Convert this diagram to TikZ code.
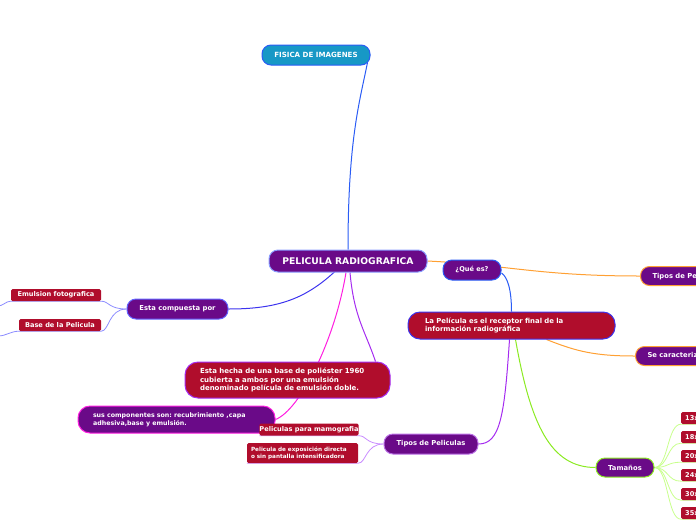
\documentclass[tikz,border=0pt]{standalone}
\usepackage{fontspec}
\setmainfont{DejaVu Sans}
\usepackage{xcolor}
\definecolor{mmpurple}{HTML}{6A0A88}
\definecolor{mmred}{HTML}{B00D2C}
\definecolor{mmteal}{HTML}{1798C6}
\definecolor{lnblue}{HTML}{2A5CF5}
\definecolor{lnindigo}{HTML}{3C33EE}
\definecolor{lnmagenta}{HTML}{FF1EE0}
\definecolor{lnviolet}{HTML}{A52BF0}
\definecolor{lnorange}{HTML}{FFA033}
\definecolor{lngreen}{HTML}{8BEA22}
\definecolor{twgblue}{HTML}{8C8CFF}
\definecolor{twgviolet}{HTML}{C98CFF}
\definecolor{twggreen}{HTML}{C8FF8C}
\definecolor{bdlight}{HTML}{8A9CFF}
\usetikzlibrary{backgrounds}
\frenchspacing

\begin{document}
\begin{tikzpicture}[x=1pt,y=-1pt,
        topic/.style={rounded corners=9pt,fill=mmpurple,text=white,line width=1pt,inner sep=0pt,
          minimum height=20pt,align=center,font=\bfseries\fontsize{6.8}{8.5}\selectfont},
        leaf/.style={rounded corners=1.5pt,fill=mmred,text=white,inner sep=0pt,minimum height=12pt,
          font=\bfseries\fontsize{6.6}{8}\selectfont},
        link/.style={line width=1pt},
        twig/.style={line width=0.8pt}]
        \useasboundingbox (0,0) rectangle (696,520);
        \clip (0,0) rectangle (696,520);

        \node[topic,fill=mmteal,draw=lnblue,minimum width=108pt,font=\bfseries\fontsize{7.1}{8}\selectfont] (fis) at (316,55) {FISICA DE IMAGENES};
        \node[topic,draw=bdlight,minimum width=158pt,minimum height=22pt,font=\bfseries\fontsize{9.2}{10}\selectfont] (pel) at (348,261) {PELICULA RADIOGRAFICA};
        \node[topic,draw=twgblue!70!blue,minimum width=101pt] (comp) at (177.5,309) {Esta compuesta por};
        \node[leaf,minimum width=90pt] (emul) at (56,295) {Emulsion fotografica};
        \node[leaf,minimum width=82pt] (base) at (60,325) {Base de la Pelicula};
        \node[topic,fill=mmred,draw=lnviolet,text width=175pt,inner xsep=15pt,minimum height=36pt,align=left,rounded corners=13pt,
          font=\bfseries\fontsize{7}{8.6}\selectfont] (hecha) at (287.5,380)
          {Esta hecha de una base de poliéster 1960\\cubierta a ambos por una emulsión\\denominado película de emulsión doble.};
        \node[topic,draw=lnmagenta,text width=167pt,inner xsep=15pt,minimum height=27pt,align=left,rounded corners=12pt,
          font=\bfseries\fontsize{6.3}{8.4}\selectfont] (sus) at (176.5,419.5)
          {sus componentes son: recubrimiento ,capa\\adhesiva,base y emulsión.};
        \node[leaf,minimum width=98pt] (mamo) at (309,429.5) {Peliculas para mamografia};
        \node[leaf,minimum height=20pt,text width=103pt,inner xsep=4pt,align=left,font=\bfseries\fontsize{5.7}{7}\selectfont] (expo) at (302.5,453)
          {Pelicula de exposición directa\\o sin pantalla intensificadora};
        \node[topic,draw=twgviolet!80!violet,minimum width=94pt] (tipos) at (431,444) {Tipos de Peliculas};
        \node[topic,draw=lnblue,minimum width=58pt,font=\bfseries\fontsize{6.6}{8}\selectfont] (que) at (472,270) {¿Qué es?};
        \node[topic,fill=mmred,draw=lnindigo,text width=173pt,inner xsep=17pt,minimum height=27pt,align=left,rounded corners=12pt,
          font=\bfseries\fontsize{6.9}{8.6}\selectfont] (lapel) at (511.5,325.5)
          {La Película es el receptor final de la\\información radiográfica};
        \node[topic,draw=lnorange,anchor=west,inner xsep=12pt,minimum height=19pt] (tpe) at (640,276) {Tipos de Películas};
        \node[topic,draw=lnorange,anchor=west,inner xsep=12pt,minimum height=19pt] (secar) at (635,356) {Se caracteriza por};
        \node[topic,draw=lngreen,minimum width=58pt,minimum height=19pt] (tam) at (625,467.5) {Tamaños};
        \foreach \s/\y [count=\i] in {13x18/418,18x24/437,20x40/456,24x30/475,30x40/494,35x43/513}
          \node[leaf,anchor=west,inner xsep=4pt] (size\i) at (681,\y) {\s\ cm};

        \coordinate (offA) at (-2,306);
        \coordinate (offB) at (-2,336);

        \begin{pgfonlayer}{background}
          \draw[link,lnblue] ([xshift=-3pt,yshift=3pt]fis.south east) .. controls +(-8,40) and +(0,-110) .. (pel.north);
          \draw[link,lnindigo] ([xshift=-12pt,yshift=2pt]pel.south) .. controls +(-30,28) and +(50,0) .. (comp.east);
          \draw[link,lnmagenta] ([xshift=-2pt]pel.south) .. controls (335,340) and (300,410) .. (sus.east);
          \draw[link,lnviolet] ([xshift=2pt]pel.south) .. controls +(4,45) and +(-10,-30) .. ([xshift=-15pt]hecha.north east);
          \draw[link,lnorange] (pel.east) .. controls +(80,4) and +(-100,0) .. (tpe.west);
          \draw[link,lnblue] ([yshift=-3pt]que.east) .. controls +(6,4) and +(0,-22) .. (lapel.north);
          \draw[link,lnorange] ([xshift=35pt]lapel.south) .. controls +(30,12) and +(-40,0) .. (secar.west);
          \draw[link,lnviolet] ([xshift=-2pt]lapel.south) .. controls +(-5,75) and +(22,0) .. (tipos.east);
          \draw[link,lngreen] ([xshift=4pt]lapel.south) .. controls +(15,85) and +(-45,0) .. (tam.west);

          \draw[twig,twgblue] (comp.west) .. controls +(-18,0) and +(8,0) .. (emul.south east) -- (emul.south west) .. controls +(-5,0) and +(5,0) .. (offA);
          \draw[twig,twgblue] (comp.west) .. controls +(-18,0) and +(8,0) .. (base.south east) -- (base.south west) .. controls +(-8,0) and +(8,0) .. (offB);
          \draw[twig,twgviolet] (tipos.west) .. controls +(-18,0) and +(8,0) .. (mamo.south east) -- (mamo.south west);
          \draw[twig,twgviolet] (tipos.west) .. controls +(-18,0) and +(8,0) .. (expo.south east) -- (expo.south west);
          \foreach \i in {1,...,6}
            \draw[twig,twggreen] (tam.east) .. controls +(14,0) and +(-14,0) .. (size\i.south west) -- (size\i.south east);
        \end{pgfonlayer}
      \end{tikzpicture}
\end{document}
